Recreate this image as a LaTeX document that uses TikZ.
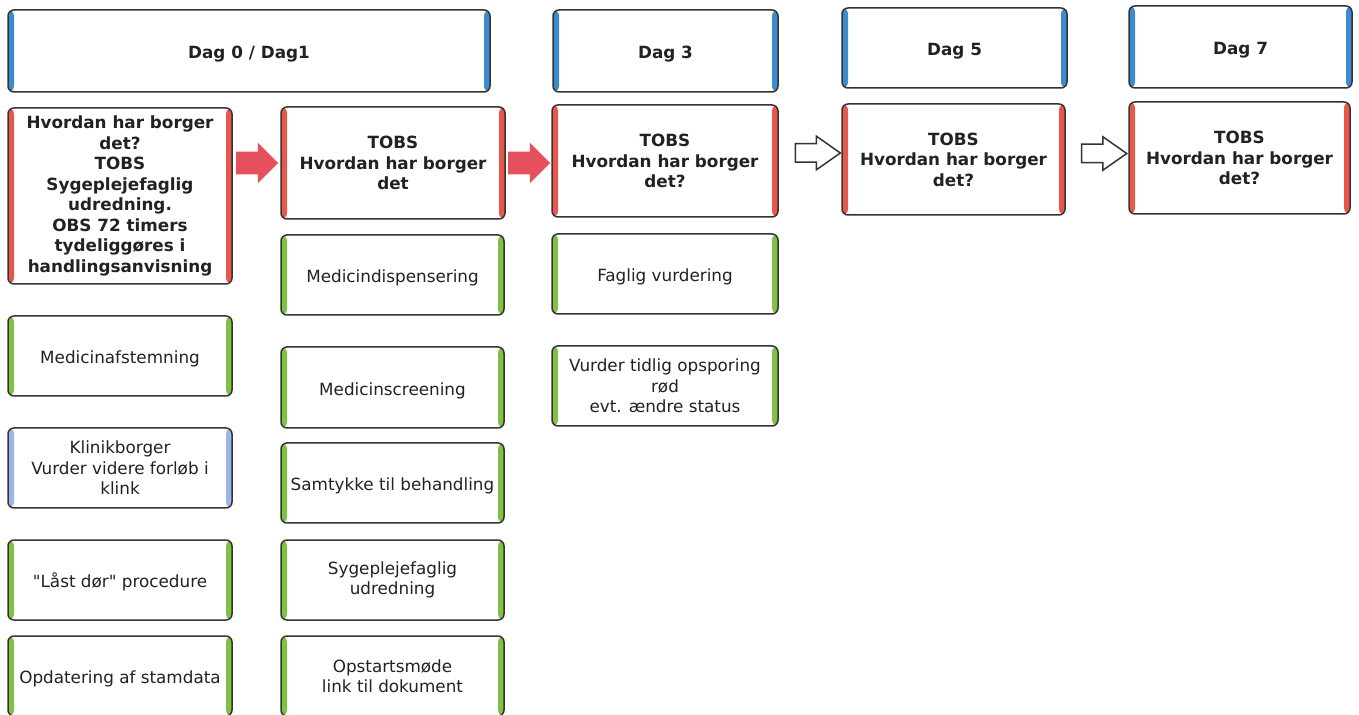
\documentclass[tikz,border=0pt]{standalone}
\usepackage{fontspec}
\setmainfont{DejaVu Sans}[Ligatures=TeXOff]
\usepackage{xcolor}
\usetikzlibrary{shapes.arrows}
\definecolor{boxline}{HTML}{333333}
\definecolor{txt}{HTML}{222222}
\definecolor{stripred}{HTML}{E8574C}
\definecolor{stripgreen}{HTML}{7DC242}
\definecolor{stripblue}{HTML}{3C8CCD}
\definecolor{striplight}{HTML}{98B6E6}
\definecolor{arrowred}{HTML}{E4505C}
\tikzset{
  tile/.style={draw=boxline, line width=0.75pt, rounded corners=3pt, fill=white,
    align=center, inner sep=0pt, text=txt, font=\fontsize{8.4}{10.25}\selectfont,
    execute at begin node={\rule{0pt}{9.4pt}},
    path picture={
      \fill[#1] (path picture bounding box.south west) rectangle ([xshift=3pt]path picture bounding box.north west);
      \fill[#1] (path picture bounding box.south east) rectangle ([xshift=-3pt]path picture bounding box.north east);}},
  daytile/.style={tile=stripblue, font=\fontsize{8.4}{10.25}\selectfont\bfseries},
  tobstile/.style={tile=stripred, font=\fontsize{8.4}{10.25}\selectfont\bfseries},
  tasktile/.style={tile=stripgreen},
  fatarrow/.style={single arrow, fill=arrowred, inner sep=0pt, inner ysep=5.5pt,
    minimum height=21pt, single arrow head extend=4.5pt, xshift=-2.5pt},
  hollowarrow/.style={single arrow, draw=boxline, line width=0.75pt, fill=white, inner sep=0pt,
    inner ysep=4.25pt, minimum height=22.5pt, single arrow head extend=3.75pt, single arrow tip angle=70}
}
\begin{document}
\begin{tikzpicture}[x=0.5pt, y=-0.5pt]
  \useasboundingbox (0,0) rectangle (1359,715);

  \node[daytile, minimum width=241pt, minimum height=41pt] at (249, 51) (d0) {Dag 0 / Dag1};
  \node[daytile, minimum width=112.5pt, minimum height=41pt] at (665.5, 51) (d3) {Dag 3};
  \node[daytile, minimum width=112.5pt, minimum height=40pt] at (954.5, 48) (d5) {Dag 5};
  \node[daytile, minimum width=111.5pt, minimum height=41pt] at (1240.5, 47) (d7) {Dag 7};

  \node[tobstile, minimum width=112pt, minimum height=88pt] at (120, 196) (t0)
    {Hvordan har borger\\det?\\TOBS\\Sygeplejefaglig\\udredning.\\OBS 72 timers\\tydeliggøres i\\handlingsanvisning};
  \node[tobstile, minimum width=112pt, minimum height=56pt] at (393, 163) (t1) {TOBS\\Hvordan har borger\\det};
  \node[tobstile, minimum width=113pt, minimum height=56pt] at (665, 161) (t3) {TOBS\\Hvordan har borger\\det?};
  \node[tobstile, minimum width=111.5pt, minimum height=55.5pt] at (953.5, 159.5) (t5) {TOBS\\Hvordan har borger\\det?};
  \node[tobstile, minimum width=110.5pt, minimum height=56pt] at (1239.5, 158) (t7) {TOBS\\Hvordan har borger\\det?};

  \node[tasktile, minimum width=112pt, minimum height=40pt] at (120, 356) (afstem) {Medicinafstemning};
  \node[tile=striplight, minimum width=112pt, minimum height=40pt] at (120, 468) (klinik) {Klinikborger\\Vurder videre forløb i\\klink};
  \node[tasktile, minimum width=112pt, minimum height=40pt] at (120, 580) (laast) {"Låst dør" procedure};
  \node[tasktile, minimum width=112pt, minimum height=40pt] at (120, 676) (stamdata) {Opdatering af stamdata};

  \node[tasktile, minimum width=111.5pt, minimum height=40pt] at (392.5, 275) (dispens) {Medicindispensering};
  \node[tasktile, minimum width=111.5pt, minimum height=40.5pt] at (392.5, 387.5) (screen) {Medicinscreening};
  \node[tasktile, minimum width=111.5pt, minimum height=40pt] at (392.5, 483) (samtykke) {Samtykke til behandling};
  \node[tasktile, minimum width=111.5pt, minimum height=40pt] at (392.5, 580) (udred) {Sygeplejefaglig\\udredning};
  \node[tasktile, minimum width=111.5pt, minimum height=40pt] at (392.5, 676) (opstart) {Opstartsmøde\\link til dokument};

  \node[tasktile, minimum width=113pt, minimum height=40pt] at (665, 274) (faglig) {Faglig vurdering};
  \node[tasktile, minimum width=113pt, minimum height=40pt] at (665, 386) (tidlig) {Vurder tidlig opsporing\\rød\\evt. ændre status};

  \path (t0.east |- t1.west) -- node[fatarrow] {} (t1.west);
  \path (t1.east) -- node[fatarrow] {} (t3.west |- t1.east);
  \path (t3.east) -- node[hollowarrow, pos=0.52, yshift=4pt] {} (t5.west |- t3.east);
  \path (t5.east) -- node[hollowarrow, pos=0.51, yshift=3pt] {} (t7.west |- t5.east);
\end{tikzpicture}
\end{document}
